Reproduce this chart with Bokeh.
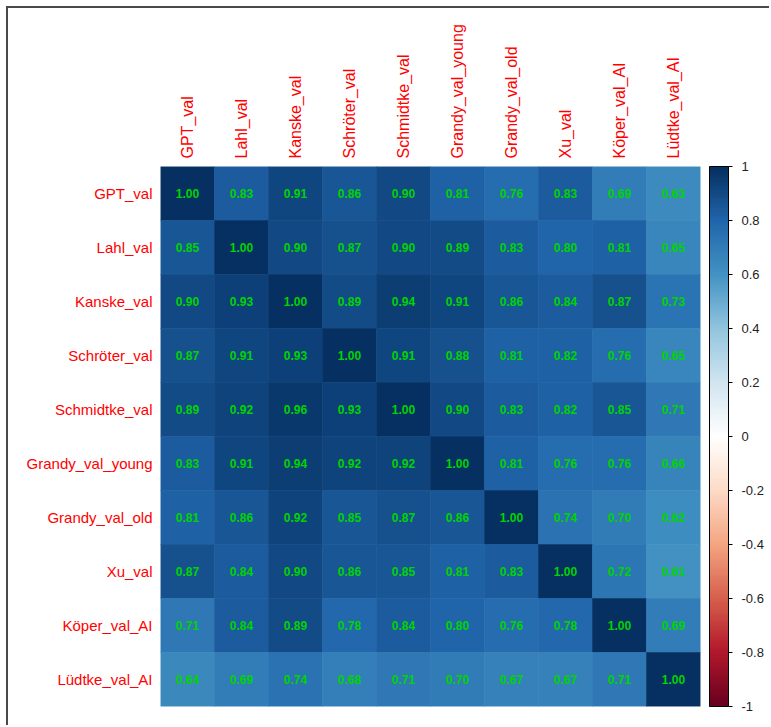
import numpy as np
from bokeh.plotting import figure
from bokeh.models import (ColumnDataSource, LinearColorMapper, ColorBar, FixedTicker,
                          CustomJSTickFormatter, FactorRange)
from bokeh.transform import transform
from bokeh.core.properties import value
from bokeh.embed import file_html
from bokeh.resources import INLINE

# ---- data -----------------------------------------------------------------
variables = ["GPT_val", "Lahl_val", "Kanske_val", "Schröter_val", "Schmidtke_val",
             "Grandy_val_young", "Grandy_val_old", "Xu_val", "Köper_val_AI", "Lüdtke_val_AI"]

row_gpt        = [1.00, 0.83, 0.91, 0.86, 0.90, 0.81, 0.76, 0.83, 0.69, 0.63]
row_lahl       = [0.85, 1.00, 0.90, 0.87, 0.90, 0.89, 0.83, 0.80, 0.81, 0.65]
row_kanske     = [0.90, 0.93, 1.00, 0.89, 0.94, 0.91, 0.86, 0.84, 0.87, 0.73]
row_schroeter  = [0.87, 0.91, 0.93, 1.00, 0.91, 0.88, 0.81, 0.82, 0.76, 0.65]
row_schmidtke  = [0.89, 0.92, 0.96, 0.93, 1.00, 0.90, 0.83, 0.82, 0.85, 0.71]
row_grandy_y   = [0.83, 0.91, 0.94, 0.92, 0.92, 1.00, 0.81, 0.76, 0.76, 0.66]
row_grandy_o   = [0.81, 0.86, 0.92, 0.85, 0.87, 0.86, 1.00, 0.74, 0.70, 0.62]
row_xu         = [0.87, 0.84, 0.90, 0.86, 0.85, 0.81, 0.83, 1.00, 0.72, 0.61]
row_koeper     = [0.71, 0.84, 0.89, 0.78, 0.84, 0.80, 0.76, 0.78, 1.00, 0.69]
row_luedtke    = [0.64, 0.69, 0.74, 0.68, 0.71, 0.70, 0.67, 0.67, 0.71, 1.00]

rows = [row_gpt, row_lahl, row_kanske, row_schroeter, row_schmidtke,
        row_grandy_y, row_grandy_o, row_xu, row_koeper, row_luedtke]

cbar_ticks = [-1, -0.8, -0.6, -0.4, -0.2, 0, 0.2, 0.4, 0.6, 0.8, 1]

# ---- colour palette (corrplot RdBu, 200 steps) -----------------------------
anchors = ["#67001F", "#B2182B", "#D6604D", "#F4A582", "#FDDBC7", "#FFFFFF",
           "#D1E5F0", "#92C5DE", "#4393C3", "#2166AC", "#053061"]
anc = np.array([[int(c[i:i + 2], 16) for i in (1, 3, 5)] for c in anchors], float)
pos = np.linspace(0, 1, len(anchors))
t = np.linspace(0, 1, 200)
palette = ["#%02x%02x%02x" % tuple(int(round(np.interp(tt, pos, anc[:, k]))) for k in range(3))
           for tt in t]

# ---- source ----------------------------------------------------------------
xs, ys, vs, labels = [], [], [], []
for i, row in enumerate(rows):
    for j, v in enumerate(row):
        xs.append(variables[j])
        ys.append(variables[i])
        vs.append(v)
        labels.append(f"{v:.2f}")
src = ColumnDataSource(dict(x=xs, y=ys, v=vs, label=labels))

mapper = LinearColorMapper(palette=palette, low=-1, high=1)

W, H = 763, 719
p = figure(width=W, height=H, output_backend="svg", toolbar_location=None,
           x_range=FactorRange(*variables), y_range=FactorRange(*reversed(variables)),
           x_axis_location="above",
           min_border_left=152, min_border_top=158, min_border_bottom=21,
           min_border_right=71)
p.outline_line_color = None
p.grid.grid_line_color = None
p.background_fill_color = "white"
p.border_fill_color = "white"

p.rect(x="x", y="y", width=1, height=1, source=src,
       fill_color=transform("v", mapper), line_color=transform("v", mapper), line_width=0.6)
p.text(x="x", y="y", text="label", source=src, text_align="center", text_baseline="middle",
       text_color="#00d400", text_font_size="12px", text_font_style="bold",
       text_font=value("Liberation Sans"))

for ax in (p.xaxis[0], p.yaxis[0]):
    ax.axis_line_color = None
    ax.major_tick_line_color = None
    ax.major_tick_out = 0
    ax.major_tick_in = 0
    ax.major_label_text_color = "#ff0000"
    ax.major_label_text_font = "Liberation Sans"
    ax.major_label_standoff = 8
p.xaxis.major_label_orientation = "vertical"
p.xaxis.major_label_text_font_size = "16px"
p.yaxis.major_label_text_font_size = "15px"

cb = ColorBar(color_mapper=mapper, ticker=FixedTicker(ticks=cbar_ticks),
              formatter=CustomJSTickFormatter(code="return String(Math.round(tick*10)/10)"),
              location=(9, 0), width=19, padding=0, margin=0, label_standoff=9,
              major_tick_out=4, major_tick_in=0, major_tick_line_color="black",
              bar_line_color="black", bar_line_width=1,
              major_label_text_font="Liberation Sans", major_label_text_font_size="13px",
              major_label_text_color="#222222", background_fill_color=None)
p.add_layout(cb, "right")

p.styles = {"border-left": "2px solid #4a4a4a", "border-top": "2px solid #4a4a4a",
            "margin-left": "6px", "margin-top": "6px"}

open("out.html", "w").write(file_html(p, INLINE))
